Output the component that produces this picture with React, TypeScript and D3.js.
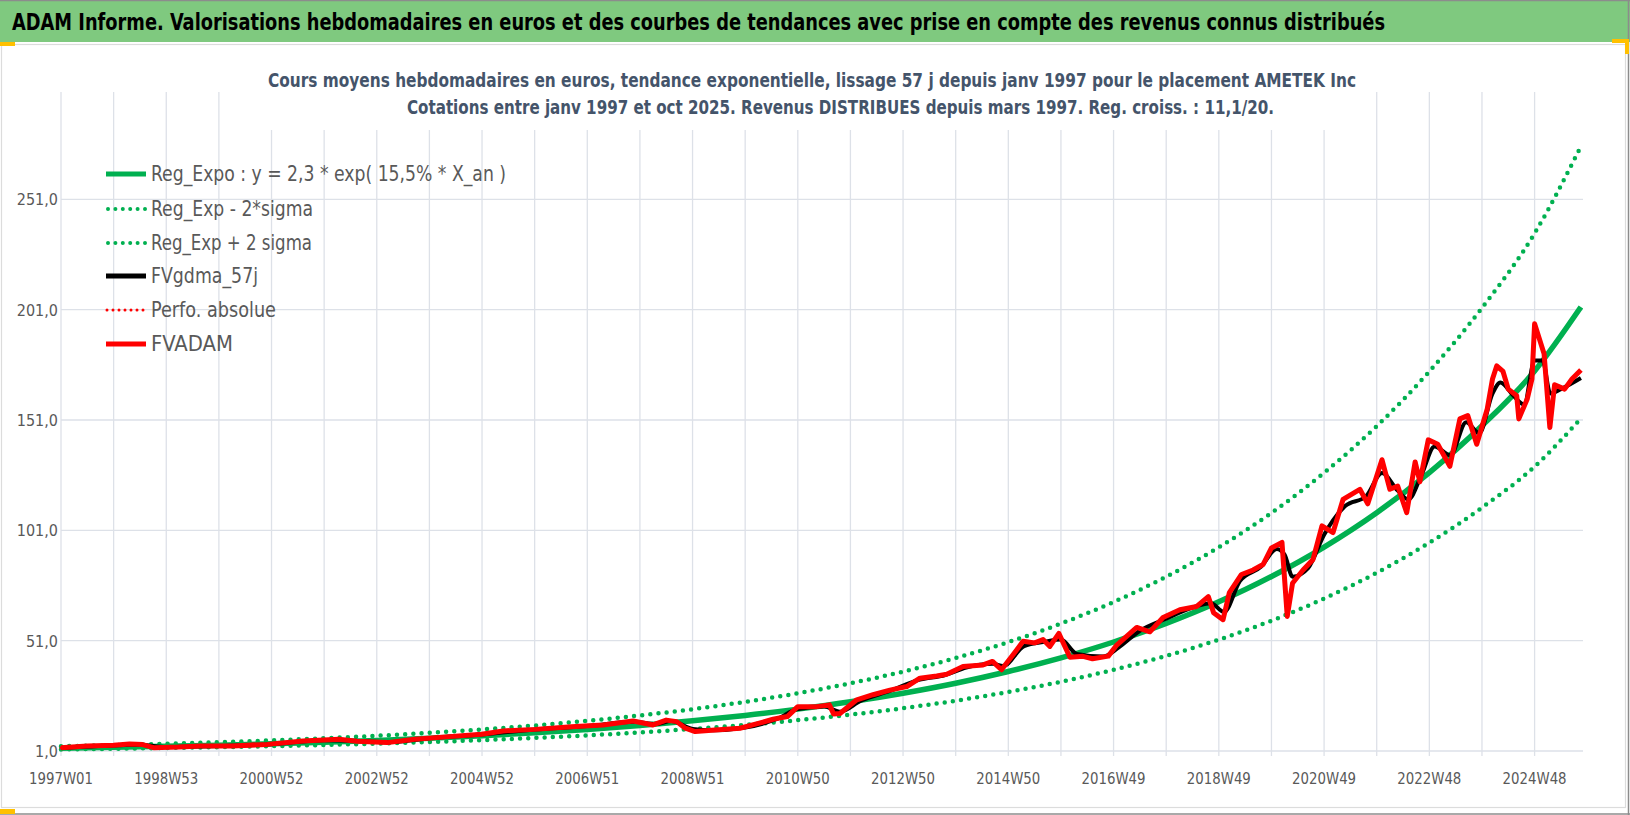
import * as d3 from "d3";

// x axis: weekly categories, one label every 104 weeks (drawn at year boundaries)
const tickLabels = [
  "1997W01", "1998W53", "2000W52", "2002W52", "2004W52", "2006W51", "2008W51",
  "2010W50", "2012W50", "2014W50", "2016W49", "2018W49", "2020W49", "2022W48", "2024W48",
];
const yTicks = [1, 51, 101, 151, 201, 251];

// Reg_Expo and bands, read at each yearly gridline (last point = end of data)
const trendYears = [
  1997, 1998, 1999, 2000, 2001, 2002, 2003, 2004, 2005, 2006, 2007, 2008, 2009, 2010, 2011,
  2012, 2013, 2014, 2015, 2016, 2017, 2018, 2019, 2020, 2021, 2022, 2023, 2024, 2025, 2025.88,
];
const trendValues = [
  2.3, 2.69, 3.13, 3.66, 4.27, 4.98, 5.81, 6.78, 7.91, 9.23, 10.77, 12.57, 14.67, 17.12, 19.97,
  23.3, 27.19, 31.72, 37.02, 43.19, 50.4, 58.81, 68.62, 80.07, 93.42, 109.0, 127.2, 148.4, 173.2, 202.2,
];
const upperValues = [
  3.13, 3.66, 4.26, 4.98, 5.81, 6.77, 7.9, 9.22, 10.76, 12.55, 14.65, 17.1, 19.95, 23.28, 27.16,
  31.69, 36.98, 43.14, 50.35, 58.74, 68.54, 79.98, 93.32, 108.9, 127.1, 148.2, 173.0, 201.8, 235.6, 275.0,
];
const lowerValues = [
  1.73, 2.02, 2.35, 2.75, 3.2, 3.74, 4.36, 5.09, 5.93, 6.92, 8.08, 9.43, 11.0, 12.84, 14.98,
  17.48, 20.39, 23.79, 27.77, 32.39, 37.8, 44.11, 51.47, 60.05, 70.07, 81.75, 95.4, 111.3, 129.9, 151.7,
];

// FVADAM (red)
const fvadamYears = [
  1997.0, 1997.5, 1998.0, 1998.3, 1998.55, 1998.76, 1999.23, 1999.65, 2000.25, 2000.92, 2001.6,
  2002.28, 2002.62, 2003.2, 2003.72, 2004.31, 2004.99, 2005.4, 2006.0, 2006.7, 2007.3, 2007.87,
  2008.25, 2008.5, 2008.7, 2008.85, 2009.05, 2009.3, 2009.9, 2010.25, 2010.53, 2010.8, 2011.0,
  2011.36, 2011.6, 2011.68, 2011.8, 2012.12, 2012.43, 2012.75, 2013.07, 2013.32, 2013.64, 2013.83,
  2014.14, 2014.52, 2014.7, 2014.87, 2015.09, 2015.28, 2015.5, 2015.66, 2015.79, 2015.96, 2016.17,
  2016.42, 2016.6, 2016.9, 2017.06, 2017.44, 2017.69, 2017.94, 2018.26, 2018.58, 2018.8, 2018.9,
  2019.08, 2019.2, 2019.43, 2019.65, 2019.84, 2020.0, 2020.2, 2020.3, 2020.4, 2020.6, 2020.79,
  2020.96, 2021.17, 2021.36, 2021.68, 2021.83, 2022.1, 2022.25, 2022.4, 2022.57, 2022.73, 2022.82,
  2022.98, 2023.16, 2023.39, 2023.58, 2023.73, 2023.9, 2024.1, 2024.2, 2024.28, 2024.4, 2024.5,
  2024.66, 2024.7, 2024.86, 2024.95, 2025.0, 2025.18, 2025.29, 2025.38, 2025.57, 2025.71, 2025.88,
];
const fvadamValues = [
  2.5, 3.3, 3.6, 4.2, 3.9, 2.5, 2.8, 3.3, 3.3, 4.0, 5.5,
  6.3, 5.4, 4.8, 6.3, 7.4, 8.6, 10.1, 10.8, 12.0, 12.8, 14.6,
  12.8, 15.0, 14.3, 11.5, 9.8, 10.3, 11.3, 13.5, 15.4, 16.6, 21.1,
  21.1, 21.9, 17.8, 18.0, 24.2, 26.5, 28.6, 30.2, 34, 35, 35.8,
  39.3, 40, 41.6, 37.8, 44.6, 50.7, 50, 51.5, 48.4, 54.3, 43.5,
  43.9, 42.8, 44, 49, 57, 55, 61.5, 65, 66.5, 71, 63.7,
  60.5, 72.8, 81, 83, 85.5, 93, 95.5, 62, 77, 83, 87.8,
  103, 100, 115, 119.6, 113, 133, 119.6, 121, 109, 132, 123,
  142, 140, 130, 151.5, 153, 140, 156, 169.6, 175.5, 173, 165,
  162, 151.5, 160.5, 169.6, 194.6, 181, 147.6, 167, 165, 169.6, 173.7,
];

// FVgdma_57j (black, smoothed)
const gdmaYears = [
  1997.0, 1998.0, 1998.5, 1999.0, 2000.0, 2001.0, 2002.0, 2002.6, 2003.2, 2004.0, 2005.0, 2006.0,
  2007.0, 2007.9, 2008.3, 2008.6, 2009.0, 2009.4, 2010.0, 2010.6, 2011.0, 2011.5, 2011.8, 2012.2,
  2012.75, 2013.3, 2013.8, 2014.2, 2014.7, 2014.9, 2015.3, 2015.7, 2016.0, 2016.3, 2016.8, 2017.1,
  2017.5, 2018.0, 2018.5, 2018.85, 2019.1, 2019.4, 2019.8, 2020.1, 2020.25, 2020.4, 2020.7, 2021.0,
  2021.4, 2021.8, 2022.1, 2022.4, 2022.6, 2022.85, 2023.1, 2023.4, 2023.7, 2023.95, 2024.2, 2024.35,
  2024.6, 2024.8, 2025.0, 2025.15, 2025.3, 2025.5, 2025.88,
];
const gdmaValues = [
  2.4, 3.5, 3.8, 2.8, 3.3, 4.1, 5.9, 5.6, 5.0, 6.8, 8.5, 10.7,
  12.3, 14.2, 13.2, 14.6, 11.0, 10.4, 11.6, 15.5, 20.0, 21.2, 18.8, 23.8,
  28.2, 33.2, 35.4, 38.8, 40.5, 39.5, 48.5, 50.5, 51.5, 45, 43.8, 48,
  55.5, 61, 66, 68, 64, 78, 84.5, 92.5, 90, 80, 84, 99,
  112, 116.5, 127, 119, 115, 126, 139, 135, 150, 145, 163, 168,
  162, 158, 178, 178, 163, 165, 170,
];

const legendItems = [
  { label: "Reg_Expo : y = 2,3 * exp( 15,5% *  X_an )", w: 355 },
  { label: "Reg_Exp - 2*sigma", w: 162 },
  { label: "Reg_Exp + 2 sigma", w: 161 },
  { label: "FVgdma_57j", w: 107 },
  { label: "Perfo. absolue", w: 125 },
  { label: "FVADAM", w: 82 },
];

const GREEN = "#00b050";
const RED = "#ff0000";
const GRID = "#dde1e8";
const TXT = "#595959";
const FONT = "'Liberation Sans Narrow', 'DejaVu Sans Condensed', 'Noto Sans', sans-serif";

type P = [number, number];
const zip = (xs: number[], vs: number[]): P[] => xs.map((t, i) => [t, vs[i]]);

export default function App() {
  const W = 1630;
  const H = 815;
  const plotRight = 1583;
  const plotTop = 92;
  const x = d3.scaleLinear().domain([1997, 2025]).range([61, 1534.6]);
  const y = d3.scaleLinear().domain([1, 301]).range([751, 89]);

  const curve = d3.line<P>().x((d) => x(d[0])).y((d) => y(d[1])).curve(d3.curveMonotoneX);
  const jag = d3.line<P>().x((d) => x(d[0])).y((d) => y(d[1]));

  const trend = zip(trendYears, trendValues);
  const upper = zip(trendYears, upperValues);
  const lower = zip(trendYears, lowerValues);
  const fvadam = zip(fvadamYears, fvadamValues);
  const gdma = zip(gdmaYears, gdmaValues);

  const gridYears = d3.range(1997, 2026);
  const legendY = [174, 209, 243, 276, 310, 344];

  const dotted = { strokeDasharray: "0 8.2", strokeLinecap: "round" as const };

  return (
    <svg width={W} height={H} style={{ position: "absolute", left: 0, top: 0, background: "#fff" }}>
      {/* frame and header band */}
      <rect x={0} y={0} width={W} height={H} fill="#fff" />
      <rect x={0} y={0} width={W} height={42} fill="#7fc97f" />
      <line x1={0} x2={W} y1={0.5} y2={0.5} stroke="#8c8c8c" strokeWidth={1.5} />
      <line x1={W - 1.5} x2={W - 1.5} y1={0} y2={H} stroke="#8c8c8c" strokeWidth={1.5} />
      <rect x={1.5} y={44.5} width={1624} height={763} fill="none" stroke="#dcdcdc" strokeWidth={1.2} />
      <line x1={0} x2={W} y1={H - 1} y2={H - 1} stroke="#8c8c8c" strokeWidth={1.5} />
      <rect x={0} y={42} width={15} height={4} fill="#ffc000" />
      <path d="M1612,41 H1627 V54" fill="none" stroke="#ffc000" strokeWidth={4} />
      <rect x={0} y={809} width={15} height={5} fill="#ffc000" />

      <text
        x={12}
        y={30}
        fontFamily={FONT}
        fontWeight="bold"
        fontSize={23}
        fill="#000"
        textLength={1373}
        lengthAdjust="spacingAndGlyphs"
      >
        ADAM Informe. Valorisations hebdomadaires en euros et des courbes de tendances avec prise en compte des revenus connus distribués
      </text>

      {/* gridlines */}
      {yTicks.map((v) => (
        <line key={"h" + v} x1={61} x2={plotRight} y1={y(v)} y2={y(v)} stroke={GRID} strokeWidth={1.3} />
      ))}
      {gridYears.map((t) => (
        <line key={"v" + t} x1={x(t)} x2={x(t)} y1={plotTop} y2={y(1) + 5} stroke={GRID} strokeWidth={1.3} />
      ))}

      {/* subtitle box covers gridlines */}
      <rect x={264} y={60} width={1098} height={70} fill="#fff" />
      <text x={268} y={87} fontFamily={FONT} fontWeight="bold" fontSize={20} fill="#44546a" textLength={1088} lengthAdjust="spacingAndGlyphs">
        Cours moyens hebdomadaires en euros, tendance exponentielle, lissage 57 j depuis janv 1997 pour le placement AMETEK Inc
      </text>
      <text x={407} y={114} fontFamily={FONT} fontWeight="bold" fontSize={20} fill="#44546a" textLength={867} lengthAdjust="spacingAndGlyphs">
        Cotations entre janv 1997 et oct 2025. Revenus DISTRIBUES depuis mars 1997.  Reg. croiss. : 11,1/20.
      </text>

      {/* axis labels */}
      {yTicks.map((v) => (
        <text key={"yl" + v} x={58} y={y(v) + 6} textAnchor="end" fontFamily={FONT} fontSize={16} fill={TXT}>
          {d3.format(".1f")(v).replace(".", ",")}
        </text>
      ))}
      {tickLabels.map((lab, i) => (
        <text
          key={lab}
          x={x(1997 + i * 2) - 32}
          y={784}
          fontFamily={FONT}
          fontSize={16.5}
          fill={TXT}
          textLength={64}
          lengthAdjust="spacingAndGlyphs"
        >
          {lab}
        </text>
      ))}

      {/* series */}
      <path d={curve(upper) ?? ""} fill="none" stroke={GREEN} strokeWidth={4.5} {...dotted} />
      <path d={curve(lower) ?? ""} fill="none" stroke={GREEN} strokeWidth={4.5} {...dotted} />
      <path d={curve(trend) ?? ""} fill="none" stroke={GREEN} strokeWidth={5.5} />
      <path d={curve(gdma) ?? ""} fill="none" stroke="#000" strokeWidth={4} strokeLinejoin="round" />
      <path d={jag(fvadam) ?? ""} fill="none" stroke={RED} strokeWidth={3} strokeDasharray="0 6" strokeLinecap="round" />
      <path d={jag(fvadam) ?? ""} fill="none" stroke={RED} strokeWidth={5} strokeLinejoin="round" />

      {/* legend */}
      {legendItems.map((it, i) => {
        const ly = legendY[i];
        const x1 = 106;
        const x2 = 146;
        return (
          <g key={it.label}>
            {i === 0 && <line x1={x1} x2={x2} y1={ly} y2={ly} stroke={GREEN} strokeWidth={5} />}
            {(i === 1 || i === 2) && (
              <line x1={x1 + 2} x2={x2} y1={ly} y2={ly} stroke={GREEN} strokeWidth={4} strokeDasharray="0 7.4" strokeLinecap="round" />
            )}
            {i === 3 && <line x1={x1} x2={x2} y1={ly} y2={ly} stroke="#000" strokeWidth={5} />}
            {i === 4 && (
              <line x1={x1 + 1} x2={x2} y1={ly} y2={ly} stroke={RED} strokeWidth={3} strokeDasharray="0 6" strokeLinecap="round" />
            )}
            {i === 5 && <line x1={x1} x2={x2} y1={ly} y2={ly} stroke={RED} strokeWidth={5} />}
            <text
              x={151}
              y={ly + 7}
              fontFamily={FONT}
              fontSize={21}
              fill={TXT}
              textLength={it.w}
              lengthAdjust="spacingAndGlyphs"
            >
              {it.label}
            </text>
          </g>
        );
      })}
    </svg>
  );
}
